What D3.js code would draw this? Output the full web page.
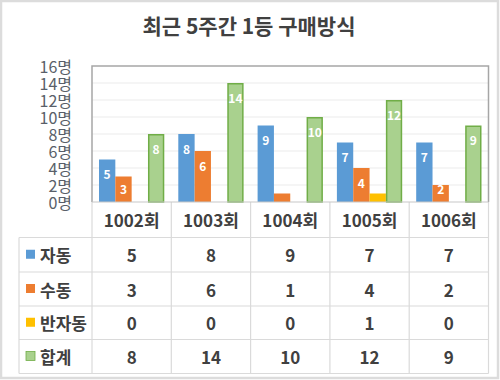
<!DOCTYPE html>
<html><head><meta charset="utf-8">
<script src="https://cdn.jsdelivr.net/npm/d3@7/dist/d3.min.js"></script>
<style>
html,body{margin:0;padding:0;background:#fff;}
svg{display:block;}
</style></head>
<body>
<svg id="c" width="500" height="380"></svg>
<script>
const title = "최근 5주간 1등 구매방식";
const categories = ["1002회","1003회","1004회","1005회","1006회"];
const seriesNames = ["자동","수동","반자동","합계"];
const auto = [5,8,9,7,7];
const manual = [3,6,1,4,2];
const semi = [0,0,0,1,0];
const total = [8,14,10,12,9];
const yTicks = [0,2,4,6,8,10,12,14,16];
const yTickLabels = ["0명","2명","4명","6명","8명","10명","12명","14명","16명"];
const colors = ["#5b9bd5","#ed7d31","#ffc000","#a9d18e"];
const strokes = ["#5b9bd5","#ed7d31","#ffc000","#70ad47"];

(function(){
const values = [auto, manual, semi, total];
const svg = d3.select("#c");
const FONT = "'Noto Sans CJK KR','Noto Sans',sans-serif";
const TXT = "#404040";

// outer frame
svg.append("rect").attr("x",1).attr("y",1).attr("width",497).attr("height",377)
  .attr("fill","#fff").attr("stroke","#dcdcdc").attr("stroke-width",2.5);

// title
svg.append("text").attr("x",249).attr("y",25).attr("text-anchor","middle")
  .attr("dominant-baseline","central").attr("font-family",FONT).attr("font-weight",700)
  .attr("font-size",21).attr("fill",TXT).text(title);

const pLeft = 92, pRight = 488.5, pTop = 66, base = 202;
const x = d3.scaleBand().domain(categories).range([pLeft,pRight]).padding(0);
const bw = x.bandwidth();
const xi = d3.scaleBand().domain(seriesNames).range([7,bw-7]).padding(0);
const y = d3.scaleLinear().domain([0,16]).range([base,pTop]);

// gridlines
svg.append("g").selectAll("line").data(yTicks.filter(t=>t>0&&t<16)).join("line")
  .attr("x1",pLeft).attr("x2",pRight).attr("y1",d=>y(d)).attr("y2",d=>y(d))
  .attr("stroke","#ebebeb").attr("stroke-width",1);

// y labels
svg.append("g").selectAll("text").data(yTicks).join("text")
  .attr("x",72).attr("y",d=>y(d)).attr("text-anchor","end").attr("dominant-baseline","central")
  .attr("font-family",FONT).attr("font-weight",400).attr("font-size",16).attr("fill","#595f69")
  .text((d,i)=>yTickLabels[i]);

// bars
const bars = [];
categories.forEach((c,ci)=>{
  seriesNames.forEach((s,si)=>{
    bars.push({c, s, si, v: values[si][ci]});
  });
});
const bg = svg.append("g");
bg.selectAll("rect").data(bars.filter(d=>d.v>0)).join("rect")
  .attr("x",d=>x(d.c)+xi(d.s)+(d.si===3?0.75:0))
  .attr("y",d=>y(d.v)+(d.si===3?0.75:0))
  .attr("width",d=>xi.bandwidth()-(d.si===3?1.5:0))
  .attr("height",d=>base-y(d.v)-(d.si===3?0.75:0))
  .attr("fill",d=>colors[d.si])
  .attr("stroke",d=>d.si===3?strokes[3]:"none").attr("stroke-width",1.5);

// bar labels
bg.selectAll("text").data(bars.filter(d=>d.v>=2)).join("text")
  .attr("x",d=>x(d.c)+xi(d.s)+xi.bandwidth()/2)
  .attr("y",d=>Math.min(y(d.v)+14, base-14))
  .attr("text-anchor","middle").attr("dominant-baseline","central")
  .attr("font-family",FONT).attr("font-weight",700).attr("font-size",12).attr("fill","#fff")
  .text(d=>d.v);

// plot border (top, left, right)
svg.append("path").attr("d",`M${pLeft},${base}V${pTop}H${pRight}V${base}`)
  .attr("fill","none").attr("stroke","#a6a6a6").attr("stroke-width",1.5);

// table
const rowTops = [202, 237.5, 272, 306, 339.5, 373.5];
const tleft = 19;
const tg = svg.append("g");
tg.selectAll("line.h").data(rowTops.slice(1)).join("line").attr("class","h")
  .attr("x1",tleft).attr("x2",pRight).attr("y1",d=>d).attr("y2",d=>d)
  .attr("stroke","#dadada").attr("stroke-width",1.2);
const vx = categories.map(c=>x(c)).concat([pRight]);
tg.selectAll("line.v").data(vx).join("line").attr("class","v")
  .attr("x1",d=>d).attr("x2",d=>d).attr("y1",base).attr("y2",rowTops[5])
  .attr("stroke","#dadada").attr("stroke-width",1.2);
tg.append("line").attr("x1",tleft).attr("x2",tleft).attr("y1",rowTops[1]).attr("y2",rowTops[5])
  .attr("stroke","#dadada").attr("stroke-width",1.2);
svg.append("line").attr("x1",pLeft).attr("x2",pRight).attr("y1",base).attr("y2",base)
  .attr("stroke","#c8c8c8").attr("stroke-width",1.2);

// header
tg.selectAll("text.hd").data(categories).join("text").attr("class","hd")
  .attr("x",d=>x(d)+bw/2).attr("y",(rowTops[0]+rowTops[1])/2)
  .attr("text-anchor","middle").attr("dominant-baseline","central")
  .attr("font-family",FONT).attr("font-weight",700).attr("font-size",17).attr("fill",TXT)
  .text(d=>d);

// rows
seriesNames.forEach((s,si)=>{
  const cy = (rowTops[si+1]+rowTops[si+2])/2;
  tg.append("rect").attr("x",26).attr("y",cy-5).attr("width",9).attr("height",9)
    .attr("fill",colors[si]).attr("stroke",si===3?strokes[3]:"none").attr("stroke-width",0.8);
  tg.append("text").attr("x",40).attr("y",cy).attr("dominant-baseline","central")
    .attr("font-family",FONT).attr("font-weight",700).attr("font-size",17).attr("fill",TXT).text(s);
  tg.selectAll("text.r"+si).data(categories).join("text").attr("class","r"+si)
    .attr("x",d=>x(d)+bw/2).attr("y",cy)
    .attr("text-anchor","middle").attr("dominant-baseline","central")
    .attr("font-family",FONT).attr("font-weight",700).attr("font-size",17).attr("fill",TXT)
    .text((d,ci)=>values[si][ci]);
});
})();
</script>
</body></html>
